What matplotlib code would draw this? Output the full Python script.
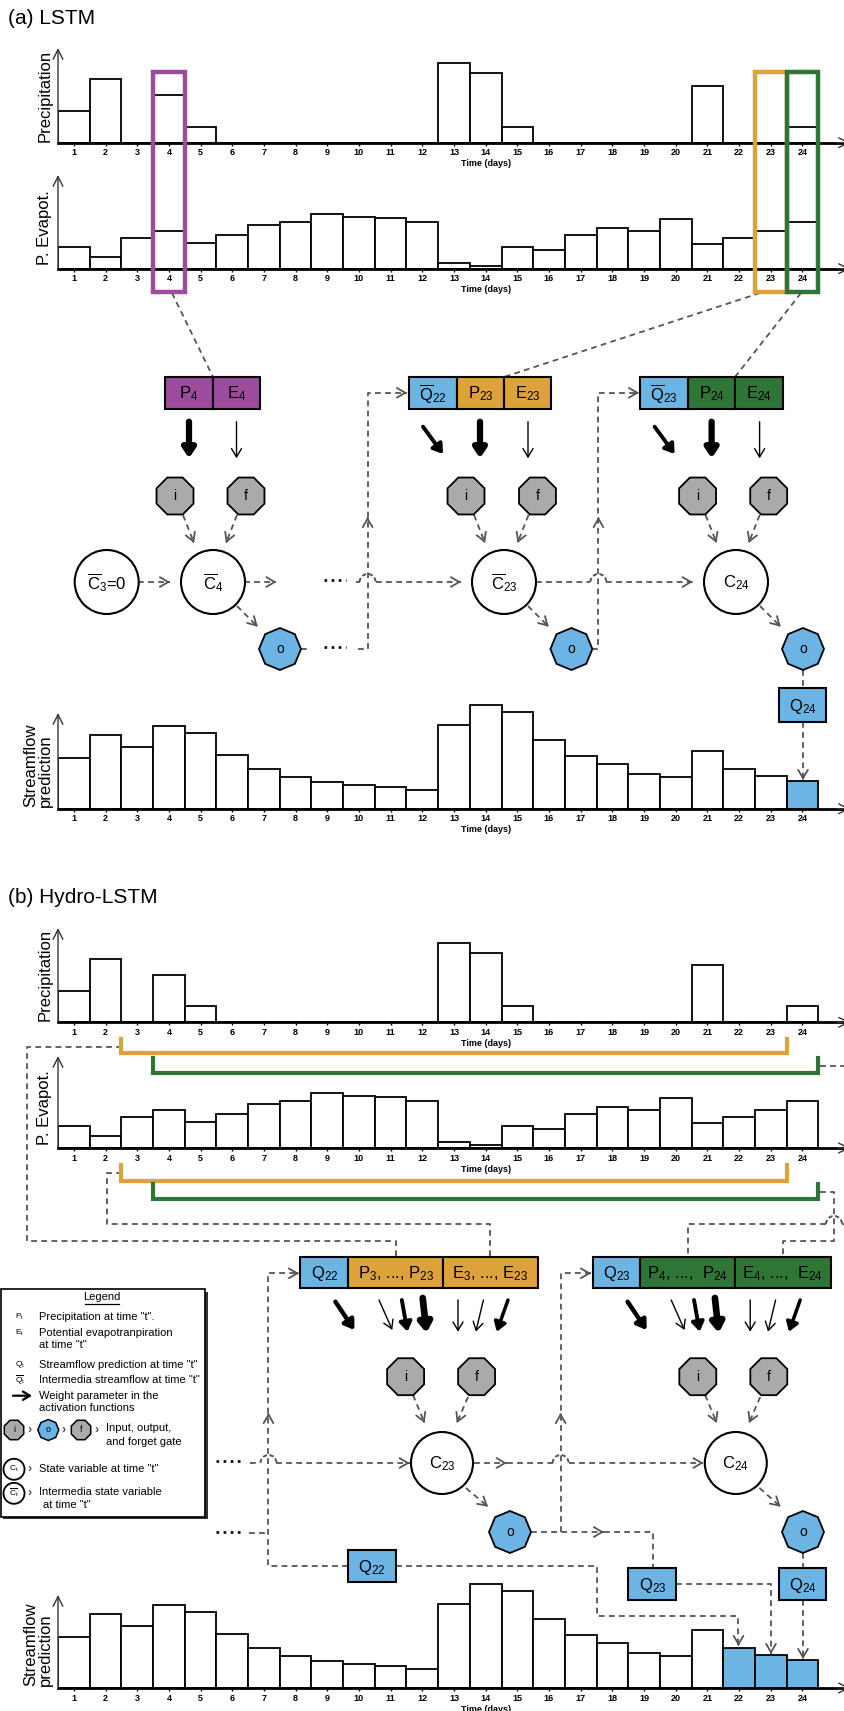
import numpy as np
import matplotlib.pyplot as plt
from matplotlib import patches

plt.rcParams['font.family'] = ['Liberation Sans', 'DejaVu Sans']
plt.rcParams['mathtext.default'] = 'regular'

# ---- values ----
days = list(range(1, 25))
precip = [2, 4, 0, 3, 1, 0, 0, 0, 0, 0, 0, 0, 5, 4.4, 1, 0, 0, 0, 0, 0, 3.6, 0, 0, 1]
pet = [2.2, 1.2, 3.1, 3.8, 2.6, 3.4, 4.4, 4.7, 5.5, 5.2, 5.1, 4.7,
       0.6, 0.3, 2.2, 1.9, 3.4, 4.1, 3.8, 5.0, 2.5, 3.1, 3.8, 4.7]
flow = [5.1, 7.4, 6.2, 8.3, 7.6, 5.4, 4.0, 3.2, 2.7, 2.4, 2.2, 1.9,
        8.4, 10.4, 9.7, 6.9, 5.3, 4.5, 3.5, 3.2, 5.8, 4.0, 3.3, 2.8]
pred_lstm = [24]
pred_hydro = [22, 23, 24]

legend_sym = [r'$P_t$', r'$E_t$', r'$Q_t$', r'$\overline{Q}_t$']
legend_txt = ['Precipitation at time "t".', 'Potential evapotranpiration',
              'Streamflow prediction at time "t"', 'Intermedia streamflow at time "t"']

PURPLE = '#9d4b9d'
ORANGE = '#dea23a'
GREEN = '#2f7535'
BLUE = '#6cb4e4'
GATE = '#aaaaaa'
DASH = '#555555'

W, H = 845, 1711
fig = plt.figure(figsize=(W / 100, H / 100), dpi=100)

X0 = 58.0
BW = (818.3 - X0) / 24
XEND = 850.0


def chart(base, top, vals, ppu, blue=()):
    hpx = 125
    ax = fig.add_axes([X0 / W, 1 - base / H, (XEND - X0) / W, hpx / H])
    ax.patch.set_visible(False)
    xmax = 0.5 + (XEND - X0) / BW
    ax.set_xlim(0.5, xmax)
    ax.set_ylim(0, hpx / ppu)
    cols = [BLUE if d in blue else 'white' for d in days]
    ax.bar(days, vals, width=1, color=cols, edgecolor='black', linewidth=1.3)
    for s in ['top', 'right', 'left']:
        ax.spines[s].set_visible(False)
    ax.spines['bottom'].set_linewidth(2)
    ax.set_yticks([])
    ax.set_xticks(days)
    ax.set_xticklabels([str(d) for d in days], fontsize=6.5, fontweight='bold')
    ax.tick_params(axis='x', length=2.5, width=1, pad=1.5)
    ax.annotate('', xy=(0.5, (base - top) / ppu), xytext=(0.5, 0),
                arrowprops=dict(arrowstyle='->,head_length=0.7,head_width=0.35', lw=1,
                                color='#333333', shrinkA=0, shrinkB=0, mutation_scale=10),
                annotation_clip=False)
    ax.annotate('', xy=(xmax, 0), xytext=(xmax - 0.4, 0),
                arrowprops=dict(arrowstyle='->,head_length=0.7,head_width=0.35', lw=1,
                                color='#333333', shrinkA=0, shrinkB=0, mutation_scale=10),
                annotation_clip=False)
    ax.text(14, -21 / ppu, 'Time (days)', ha='center', va='center', fontsize=6.5,
            fontweight='bold', clip_on=False)
    return ax


# panel (a)
chart(142.7, 48, precip, 15.85)
chart(268.7, 175, pet, 10)
chart(808.7, 713, flow, 10, pred_lstm)
# panel (b)
chart(1022.3, 928, precip, 15.85)
chart(1148, 1056, pet, 10)
chart(1688, 1595, flow, 10, pred_hydro)

ov = fig.add_axes([0, 0, 1, 1])
ov.set_xlim(0, W)
ov.set_ylim(H, 0)
ov.axis('off')
ov.patch.set_visible(False)


def head(p0, p1):
    dx, dy = p1[0] - p0[0], p1[1] - p0[1]
    L = np.hypot(dx, dy)
    ov.annotate('', xy=p1, xytext=(p1[0] - dx / L * 2, p1[1] - dy / L * 2),
                arrowprops=dict(arrowstyle='->,head_length=0.6,head_width=0.35', color=DASH,
                                lw=1.3, shrinkA=0, shrinkB=0, mutation_scale=10))


def dash(pts, end=False):
    ov.plot([p[0] for p in pts], [p[1] for p in pts], color=DASH, lw=1.3,
            ls=(0, (3.2, 2.4)), zorder=2)
    if end:
        head(pts[-2], pts[-1])


def hop(xc, y, r=8):
    ov.add_patch(patches.Arc((xc, y), 2 * r, 2 * r, theta1=180, theta2=360, color=DASH,
                             lw=1.4, ls=(0, (2.2, 1.3)), zorder=2))


def dots(x0, x1, y):
    ov.plot([x0, x1], [y, y], color='black', lw=1.9, ls=(0, (1, 1.7)), zorder=2)


def cell(x0, x1, y0, y1, fc, label, fs=12):
    ov.add_patch(patches.Rectangle((x0, y0), x1 - x0, y1 - y0, fc=fc, ec='black',
                                   lw=1.5, zorder=3))
    ov.text((x0 + x1) / 2, (y0 + y1) / 2 + 1, label, ha='center', va='center', fontsize=fs,
            zorder=4)


def gate(x, y, label, fc, R=20, orient=np.pi / 8, fs=10):
    ov.add_patch(patches.RegularPolygon((x, y), 8, radius=R, orientation=orient, fc=fc,
                                        ec='black', lw=1.3, zorder=3))
    ov.text(x, y, label, ha='center', va='center', fontsize=fs, zorder=4)


def state(x, y, label, r=32, fs=12, lw=1.5):
    ov.add_patch(patches.Circle((x, y), r, fc='white', ec='black', lw=lw, zorder=3))
    ov.text(x, y + 1, label, ha='center', va='center', fontsize=fs, zorder=4)


def warrow(p0, p1, lw, filled):
    st = '-|>,head_length=0.45,head_width=0.3' if filled else '->,head_length=0.5,head_width=0.3'
    ov.annotate('', xy=p1, xytext=p0,
                arrowprops=dict(arrowstyle=st, lw=lw, color='black', shrinkA=0, shrinkB=0,
                                mutation_scale=12))


# ---------------- (a) LSTM ----------------
ov.text(8, 18, '(a) LSTM', ha='left', va='center', fontsize=15)
ov.text(45, 96, 'Precipitation', rotation=90, ha='center', va='center', fontsize=12)
ov.text(45, 228, 'P. Evapot.', rotation=90, ha='center', va='center', fontsize=12)
ov.text(38, 807, 'Streamflow\nprediction', rotation=90, ha='center', va='bottom',
        fontsize=12, multialignment='left', linespacing=0.95)

for d, c in [(4, PURPLE), (23, ORANGE), (24, GREEN)]:
    ov.add_patch(patches.Rectangle((X0 + (d - 1) * BW, 72), BW, 220, fill=False, ec=c,
                                   lw=3.2, zorder=3))

dash([(172, 293), (213, 377)])
dash([(760, 293), (504, 377)])
dash([(801, 293), (735, 377)])

ya0, ya1 = 376.7, 409
cell(165, 213, ya0, ya1, PURPLE, r'$P_{4}$')
cell(213, 260, ya0, ya1, PURPLE, r'$E_{4}$')
cell(408.6, 456.6, ya0, ya1, BLUE, r'$\overline{Q}_{22}$')
cell(456.6, 504, ya0, ya1, ORANGE, r'$P_{23}$')
cell(504, 551.5, ya0, ya1, ORANGE, r'$E_{23}$')
cell(640, 688, ya0, ya1, BLUE, r'$\overline{Q}_{23}$')
cell(688, 735, ya0, ya1, GREEN, r'$P_{24}$')
cell(735, 783, ya0, ya1, GREEN, r'$E_{24}$')

warrow((189, 421.7), (189, 458.3), 4.5, True)
warrow((236.5, 421.7), (236.5, 458.3), 1.0, False)
for dx in [0, 231.6]:
    warrow((423 + dx, 426.7), (443 + dx, 454), 2.8, True)
    warrow((480 + dx, 421.7), (480 + dx, 458.3), 4.5, True)
    warrow((528 + dx, 421.7), (528 + dx, 458.3), 1.0, False)

for xi, xf in [(175, 246), (466, 537.5), (697.6, 768.7)]:
    gate(xi, 496, 'i', GATE)
    gate(xf, 496, 'f', GATE)
    dash([(xi + 8, 515), (xi + 19, 543)], end=True)
    dash([(xf - 9, 515), (xf - 20, 543)], end=True)

state(106.7, 582, r'$\overline{C}_{3}$=0')
state(213, 582, r'$\overline{C}_{4}$')
state(504, 582, r'$\overline{C}_{23}$')
state(736, 582, r'$C_{24}$')

for xo in [280, 571.4, 803]:
    gate(xo, 649, 'o', BLUE, R=21, orient=0)
for xc in [213, 504, 736]:
    dash([(xc + 24, 606), (xc + 44.7, 626.7)], end=True)

dash([(138.5, 582), (170, 582)], end=True)
dash([(244, 582), (276.5, 582)], end=True)
dots(324, 346, 580)
dots(324, 346, 647)
dash([(356, 582), (359.6, 582)])
hop(367.6, 582)
dash([(375.6, 582), (461, 582)], end=True)
dash([(536, 582), (590.4, 582)])
hop(598.4, 582)
dash([(606.4, 582), (692.7, 582)], end=True)

dash([(301, 649), (309, 649)])
dash([(358, 649), (367.6, 649), (367.6, 392.8), (407, 392.8)], end=True)
head((367.6, 527), (367.6, 517))
dash([(592.5, 649), (598.4, 649), (598.4, 392.8), (639, 392.8)], end=True)
head((598.4, 527), (598.4, 517))

dash([(803, 670), (803, 688)])
cell(779, 826, 688, 722, BLUE, r'$Q_{24}$')
dash([(803, 722), (803, 780)], end=True)

# ---------------- (b) Hydro-LSTM ----------------
ov.text(8, 897, '(b) Hydro-LSTM', ha='left', va='center', fontsize=15)
ov.text(45, 975, 'Precipitation', rotation=90, ha='center', va='center', fontsize=12)
ov.text(45, 1108, 'P. Evapot.', rotation=90, ha='center', va='center', fontsize=12)
ov.text(38, 1686, 'Streamflow\nprediction', rotation=90, ha='center', va='bottom',
        fontsize=12, multialignment='left', linespacing=0.95)

xo0, xo1 = X0 + 2 * BW, X0 + 23 * BW
xg0, xg1 = X0 + 3 * BW, X0 + 24 * BW
for yt, yb, c, a0, a1 in [(1039, 1053.3, ORANGE, xo0, xo1), (1058.3, 1072.7, GREEN, xg0, xg1),
                          (1165, 1180.7, ORANGE, xo0, xo1), (1184, 1199.3, GREEN, xg0, xg1)]:
    ov.plot([a0, a0, a1, a1], [yt, yb, yb, yt], color=c, lw=3, solid_joinstyle='miter',
            zorder=3)

dash([(122, 1047.3), (27.3, 1047.3), (27.3, 1240.7), (396, 1240.7), (396, 1256.7)])
dash([(122, 1173.3), (106.7, 1173.3), (106.7, 1224), (490, 1224), (490, 1256.7)])
dash([(820, 1192.3), (834, 1192.3), (834, 1240.7), (783.2, 1240.7), (783.2, 1256.7)])
dash([(820, 1065.7), (852, 1065.7), (852, 1224), (842, 1224)])
hop(834, 1224)
dash([(826, 1224), (688.3, 1224), (688.3, 1256.7)])

yb0, yb1 = 1256.7, 1288.3
cell(300.5, 348.3, yb0, yb1, BLUE, r'$Q_{22}$')
cell(348.3, 442.8, yb0, yb1, ORANGE, r'$P_{3}$, ..., $P_{23}$')
cell(442.8, 537.7, yb0, yb1, ORANGE, r'$E_{3}$, ..., $E_{23}$')
cell(592.7, 640, yb0, yb1, BLUE, r'$Q_{23}$')
cell(640, 735, yb0, yb1, GREEN, r'$P_{4}$, ...,  $P_{24}$')
cell(735, 830.6, yb0, yb1, GREEN, r'$E_{4}$, ...,  $E_{24}$')

for dx in [0, 292.2]:
    warrow((335.4 + dx, 1301.7), (354.4 + dx, 1330), 3.2, True)
    warrow((379 + dx, 1300), (392.3 + dx, 1330), 1.0, False)
    warrow((401.8 + dx, 1300), (407.5 + dx, 1331.7), 2.8, True)
    warrow((422.7 + dx, 1298), (426.5 + dx, 1333), 4.8, True)
    warrow((458 + dx, 1300), (458 + dx, 1331.7), 1.0, False)
    warrow((483.4 + dx, 1300), (475.8 + dx, 1331.7), 1.0, False)
    warrow((508 + dx, 1300), (496.7 + dx, 1331.7), 2.5, True)
    gate(405.6 + dx, 1376.7, 'i', GATE)
    gate(476.6 + dx, 1376.7, 'f', GATE)
    dash([(413 + dx, 1395), (424.6 + dx, 1423)], end=True)
    dash([(468 + dx, 1397), (456.8 + dx, 1423)], end=True)

state(442, 1463, r'$C_{23}$', r=31)
state(735.8, 1463, r'$C_{24}$', r=31)
gate(510, 1532, 'o', BLUE, R=21, orient=0)
gate(803, 1532, 'o', BLUE, R=21, orient=0)
dash([(466, 1488), (488, 1506.7)], end=True)
dash([(759.5, 1488), (780.6, 1506.7)], end=True)

dots(216, 243, 1461)
dots(216, 243, 1532)
dash([(250, 1463), (260.5, 1463)])
hop(268.5, 1463)
dash([(276.5, 1463), (409.7, 1463)], end=True)
dash([(474, 1463), (506.7, 1463)], end=True)
dash([(506.7, 1463), (552.6, 1463)])
hop(560.6, 1463)
dash([(568.6, 1463), (703.5, 1463)], end=True)

dash([(249, 1533), (268.5, 1533)])
dash([(347.7, 1566), (268.5, 1566), (268.5, 1273.3), (299, 1273.3)], end=True)
head((268.5, 1423), (268.5, 1413))
dash([(560.6, 1532), (560.6, 1273.3), (591, 1273.3)], end=True)
head((560.6, 1423), (560.6, 1413))

cell(347.7, 396.2, 1550, 1582.3, BLUE, r'$Q_{22}$')
cell(628, 676.5, 1568.3, 1600, BLUE, r'$Q_{23}$')
cell(779, 826.4, 1568.3, 1600, BLUE, r'$Q_{24}$')

dash([(531, 1532), (604, 1532)], end=True)
dash([(604, 1532), (653.4, 1532), (653.4, 1568.3)])
dash([(396.2, 1566), (596.8, 1566), (596.8, 1615.7), (738.5, 1615.7), (738.5, 1646)], end=True)
dash([(676.5, 1584), (771, 1584), (771, 1654)], end=True)
dash([(803, 1553), (803, 1568.3)])
dash([(803, 1600), (803, 1659)], end=True)

# ---------------- legend ----------------
ov.add_patch(patches.Rectangle((3, 1291.5), 205, 227.4, fc='#333333', ec='none', zorder=5))
ov.add_patch(patches.Rectangle((0.5, 1289.3), 205, 227.4, fc='white', ec='black', lw=1.2,
                               zorder=5))
LZ = 6
ov.text(102, 1297, 'Legend', ha='center', va='center', fontsize=8, zorder=LZ)
ov.plot([85.5, 119], [1303.5, 1303.5], color='black', lw=0.9, zorder=LZ)
for s, t, y in zip(legend_sym, legend_txt, [1317.3, 1332.7, 1364.7, 1380]):
    ov.text(20, y, s, ha='center', va='center', fontsize=6, zorder=LZ)
    ov.text(39, y, t, ha='left', va='center', fontsize=8, zorder=LZ)
ov.text(39, 1345.5, 'at time "t"', ha='left', va='center', fontsize=8, zorder=LZ)
ov.annotate('', xy=(32, 1395.7), xytext=(13, 1395.7), zorder=LZ,
            arrowprops=dict(arrowstyle='->,head_length=0.5,head_width=0.3', lw=1.6,
                            color='black', shrinkA=0, shrinkB=0, mutation_scale=10))
ov.text(39, 1395.7, 'Weight parameter in the', ha='left', va='center', fontsize=8, zorder=LZ)
ov.text(39, 1408.3, 'activation functions', ha='left', va='center', fontsize=8, zorder=LZ)

for x, lab, fc, orient in [(14, 'i', GATE, np.pi / 8), (48.3, 'o', BLUE, 0),
                           (81, 'f', GATE, np.pi / 8)]:
    ov.add_patch(patches.RegularPolygon((x, 1430), 8, radius=10.5, orientation=orient,
                                        fc=fc, ec='black', lw=1.1, zorder=LZ))
    ov.text(x, 1430, lab, ha='center', va='center', fontsize=6.5, zorder=LZ + 1)
    ov.text(x + 15.5, 1430, '\u203a', ha='center', va='center', fontsize=9,
            fontweight='bold', color=DASH, zorder=LZ)
ov.text(106, 1428, 'Input, output,', ha='left', va='center', fontsize=8, zorder=LZ)
ov.text(106, 1441.7, 'and forget gate', ha='left', va='center', fontsize=8, zorder=LZ)

for y, lab in [(1469.3, r'$C_t$'), (1493.3, r'$\overline{C}_t$')]:
    ov.add_patch(patches.Circle((14, y), 10.5, fc='white', ec='black', lw=1.3, zorder=LZ))
    ov.text(14, y, lab, ha='center', va='center', fontsize=6, zorder=LZ + 1)
    ov.text(30, y, '\u203a', ha='center', va='center', fontsize=9, fontweight='bold',
            color=DASH, zorder=LZ)
ov.text(39, 1469, 'State variable at time "t"', ha='left', va='center', fontsize=8, zorder=LZ)
ov.text(39, 1492, 'Intermedia state variable', ha='left', va='center', fontsize=8, zorder=LZ)
ov.text(43, 1505, 'at time "t"', ha='left', va='center', fontsize=8, zorder=LZ)

fig.savefig('out.png', dpi=100)
